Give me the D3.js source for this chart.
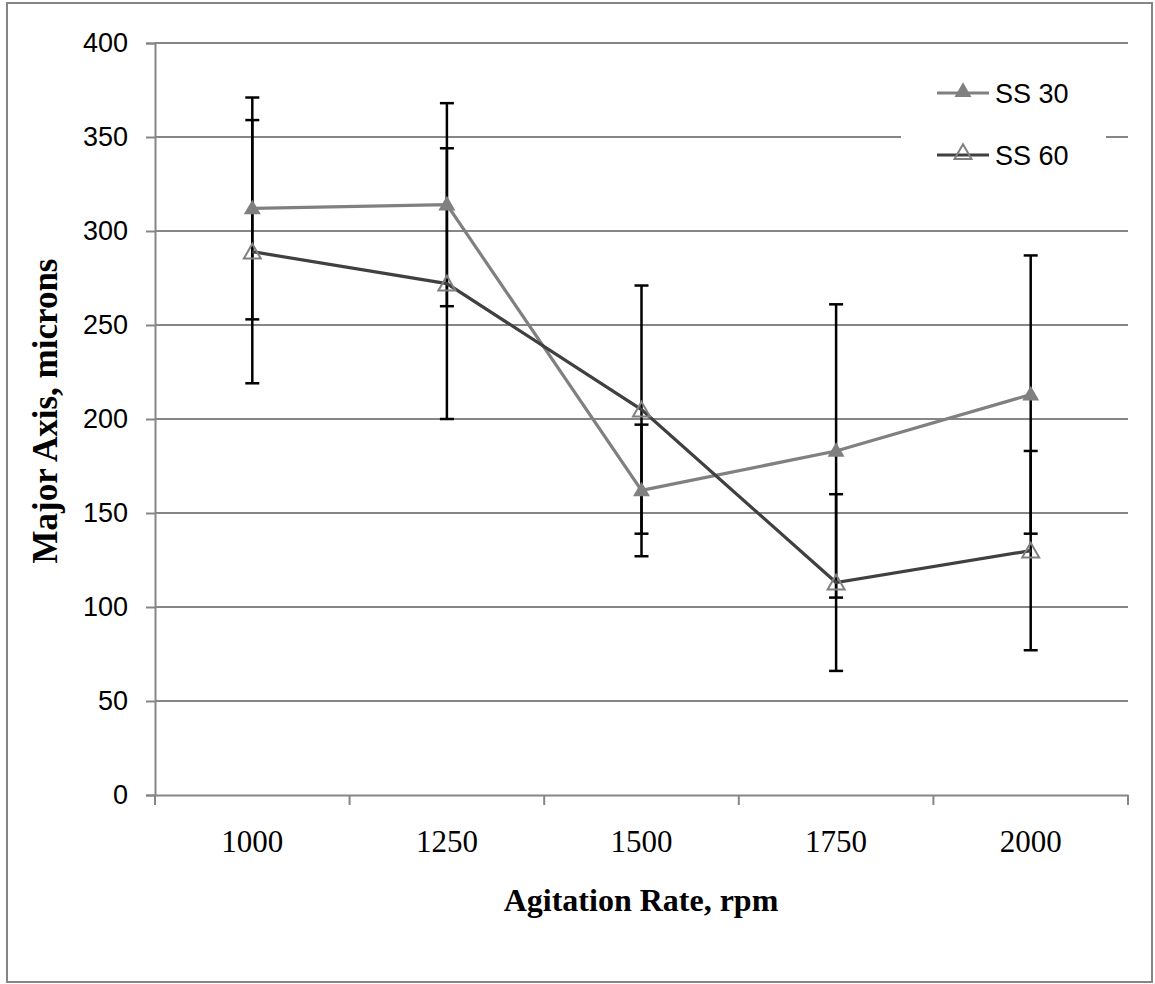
<!DOCTYPE html>
<html><head><meta charset="utf-8">
<script src="https://cdn.jsdelivr.net/npm/d3@7"></script>
<style>body{margin:0;background:#fff}svg{display:block}</style>
</head><body>
<svg id="c" width="1155" height="984"></svg>
<script>
const categories = ["1000","1250","1500","1750","2000"];
const ss30 = [312, 314, 162, 183, 213];
const ss30Err = [59, 54, 35, 78, 74];
const ss60 = [289, 272, 205, 113, 130];
const ss60Err = [70, 72, 66, 47, 53];
const yTicks = [0,50,100,150,200,250,300,350,400];
const seriesNames = ["SS 30","SS 60"];

const svg = d3.select("#c");
svg.append("rect").attr("x",7).attr("y",3).attr("width",1145).attr("height",979)
  .attr("fill","#fff").attr("stroke","#868686").attr("stroke-width",2);

const L=155, R=1128, T=43, B=795;
const x = d3.scaleBand().domain(categories).range([L,R]);
const y = d3.scaleLinear().domain([0,400]).range([B,T]);
const cx = d => x(d)+x.bandwidth()/2;

// gridlines
svg.append("g").selectAll("line").data(yTicks.filter(d=>d>0)).join("line")
  .attr("x1",L).attr("x2",R).attr("y1",d=>y(d)).attr("y2",d=>y(d))
  .attr("stroke","#868686").attr("stroke-width",2);

// y axis
const ya = svg.append("g").attr("transform",`translate(${L},0)`)
  .call(d3.axisLeft(y).tickValues(yTicks).tickSize(9).tickPadding(18));
ya.select(".domain").attr("stroke","#868686").attr("stroke-width",2);
ya.selectAll(".tick line").attr("stroke","#868686").attr("stroke-width",2);
ya.selectAll("text").attr("font-family","Liberation Sans, Arial, sans-serif").attr("font-size",27).attr("fill","#000");

// x axis
const xa = svg.append("g").attr("transform",`translate(0,${B})`)
  .call(d3.axisBottom(x).tickSize(0).tickPadding(0));
xa.select(".domain").attr("stroke","#868686").attr("stroke-width",2);
xa.selectAll("text").attr("font-family","Liberation Serif, Times New Roman, serif").attr("font-size",31).attr("fill","#000")
  .attr("dy",0).attr("y",57);
const bounds = categories.map(c=>x(c)).concat([R]);
svg.append("g").selectAll("line").data(bounds).join("line")
  .attr("x1",d=>d).attr("x2",d=>d).attr("y1",B).attr("y2",B+10)
  .attr("stroke","#868686").attr("stroke-width",2);

// titles
svg.append("text").attr("x",641).attr("y",911).attr("text-anchor","middle")
  .attr("font-family","Liberation Serif, Times New Roman, serif").attr("font-weight","bold").attr("font-size",32)
  .text("Agitation Rate, rpm");
svg.append("text").attr("transform","translate(57,411) rotate(-90)").attr("text-anchor","middle")
  .attr("font-family","Liberation Serif, Times New Roman, serif").attr("font-weight","bold").attr("font-size",35)
  .text("Major Axis, microns");

// error bars
function errBars(vals, errs){
  const g = svg.append("g").attr("stroke","#000").attr("stroke-width",2.5);
  categories.forEach((c,i)=>{
    const hi=y(vals[i]+errs[i]), lo=y(vals[i]-errs[i]), xc=cx(c);
    g.append("line").attr("x1",xc).attr("x2",xc).attr("y1",hi).attr("y2",lo);
    g.append("line").attr("x1",xc-7).attr("x2",xc+7).attr("y1",hi).attr("y2",hi);
    g.append("line").attr("x1",xc-7).attr("x2",xc+7).attr("y1",lo).attr("y2",lo);
  });
}
errBars(ss30, ss30Err);
errBars(ss60, ss60Err);

const line = d3.line().x((d,i)=>cx(categories[i])).y(d=>y(d));
const tri = d3.symbol().type(d3.symbolTriangle).size(125);

svg.append("path").datum(ss30).attr("d",line).attr("fill","none").attr("stroke","#808080").attr("stroke-width",3.2);
svg.append("g").selectAll("path").data(ss30).join("path")
  .attr("transform",(d,i)=>`translate(${cx(categories[i])},${y(d)+1})`).attr("d",tri).attr("fill","#808080");

svg.append("path").datum(ss60).attr("d",line).attr("fill","none").attr("stroke","#404040").attr("stroke-width",3.2);
svg.append("g").selectAll("path").data(ss60).join("path")
  .attr("transform",(d,i)=>`translate(${cx(categories[i])},${y(d)+2})`).attr("d",tri).attr("fill","none")
  .attr("stroke","#808080").attr("stroke-width",2);

// legend
const lg = svg.append("g");
lg.append("rect").attr("x",901).attr("y",62).attr("width",205).attr("height",125).attr("fill","#fff");
const ly = [93,155], lc = ["#808080","#404040"];
seriesNames.forEach((s,i)=>{
  lg.append("line").attr("x1",937).attr("x2",989).attr("y1",ly[i]).attr("y2",ly[i]).attr("stroke",lc[i]).attr("stroke-width",3);
  lg.append("path").attr("transform",`translate(963,${ly[i]-1})`).attr("d",tri)
    .attr("fill",i===0?"#808080":"none").attr("stroke",i===0?"none":"#808080").attr("stroke-width",2);
  lg.append("text").attr("x",995).attr("y",ly[i]+10).attr("font-family","Liberation Sans, Arial, sans-serif")
    .attr("font-size",27).text(s);
});
</script>
</body></html>
